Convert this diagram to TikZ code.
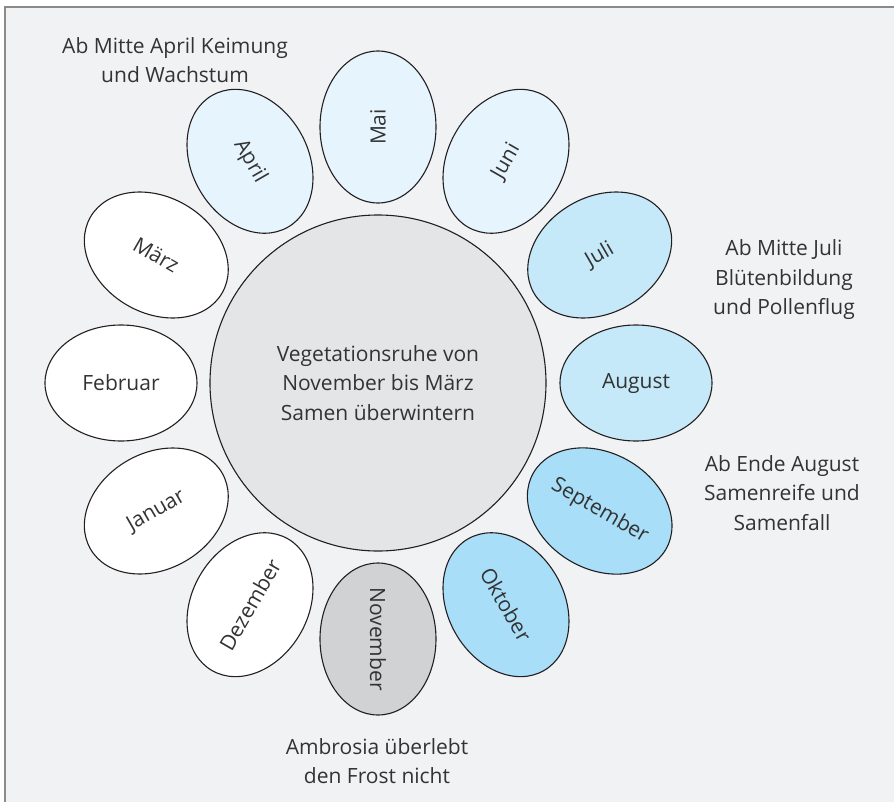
\documentclass[tikz,border=0pt]{standalone}
\usepackage{fontspec}
\setmainfont{Open Sans}
\usetikzlibrary{shapes.geometric}
\definecolor{fondo}{HTML}{F1F2F4}
\definecolor{marco}{HTML}{8A8A8A}
\definecolor{linea}{HTML}{231F20}
\definecolor{texto}{HTML}{333333}
\definecolor{gris1}{HTML}{E4E5E7}
\definecolor{gris2}{HTML}{D1D2D4}
\definecolor{azul1}{HTML}{E6F5FD}
\definecolor{azul2}{HTML}{C5E9F9}
\definecolor{azul3}{HTML}{A8DEF8}
\begin{document}
\begin{tikzpicture}[x=1pt,y=1pt,inner sep=0mm,font=\fontsize{21}{29.5}\selectfont]
\tikzstyle{mes}=[ellipse,draw=linea,line width=1.1pt,minimum width=152,minimum height=116,text=texto]
\tikzstyle{color0}=[fill=white]
\tikzstyle{color1}=[fill=azul1]
\tikzstyle{color2}=[fill=azul2]
\tikzstyle{color3}=[fill=azul3]
\tikzstyle{color4}=[fill=gris2]
\tikzstyle{nota}=[align=center,text=texto]
\useasboundingbox (-378,-418) rectangle (516,383);
\fill[white] (-378,-418) rectangle (516,383);
\fill[fondo,draw=marco,line width=1.5pt] (-373,376) rectangle (530,-430);
%% centro
\node at (0,0) (centro)[circle,draw=linea,line width=1.1pt,fill=gris1,minimum size=336,align=center,text=texto] {Vegetationsruhe von\\November bis März\\Samen überwintern};
%% meses
\node at (90:256) (mes5)[mes,color1,rotate=90] {Mai};
\node at (60:256) (mes6)[mes,color1,rotate=60] {Juni};
\node at (30:256) (mes7)[mes,color2,rotate=30] {Juli};
\node at (0:258) (mes8)[mes,color2] {August};
\node at (-30:256) (mes9)[mes,color3,rotate=-30] {September};
\node at (-60:256) (mes10)[mes,color3,rotate=-60] {Oktober};
\node at (-90:256) (mes11)[mes,color4,rotate=-90] {November};
\node at (-120:256) (mes12)[mes,color0,rotate=60] {Dezember};
\node at (-150:256) (mes1)[mes,color0,rotate=30] {Januar};
\node at (180:257) (mes2)[mes,color0] {Februar};
\node at (150:256) (mes3)[mes,color0,rotate=-30] {März};
\node at (120:256) (mes4)[mes,color1,rotate=-60] {April};
%% notas
\node at (-203,323) (nota4)[nota] {Ab Mitte April Keimung\\und Wachstum};
\node at (406,103) (nota7)[nota] {Ab Mitte Juli\\Blütenbildung\\und Pollenflug};
\node at (404,-110) (nota8)[nota] {Ab Ende August\\Samenreife und\\Samenfall};
\node at (-1,-378) (nota11)[nota] {Ambrosia überlebt\\den Frost nicht};
\end{tikzpicture}
\end{document}
